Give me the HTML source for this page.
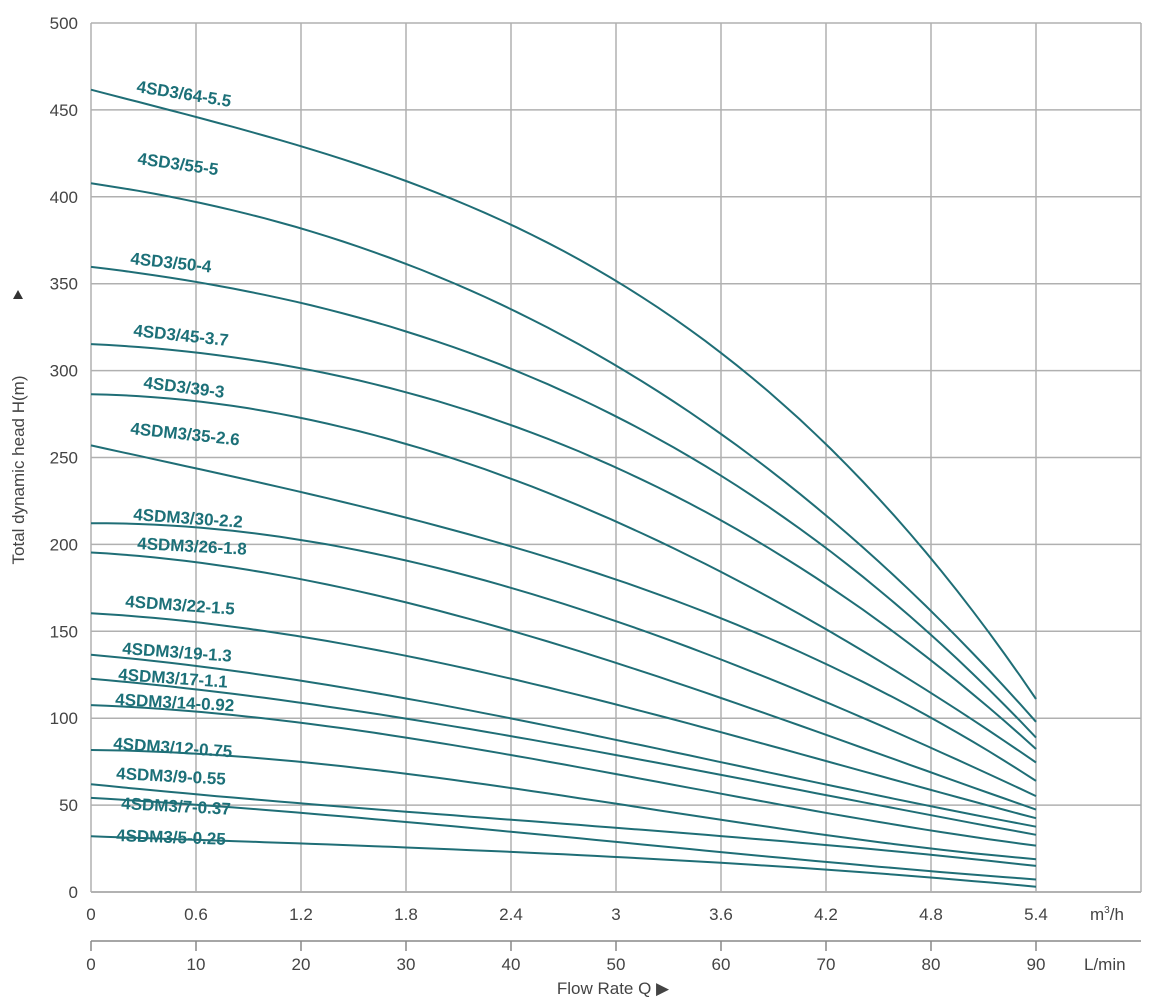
<!DOCTYPE html>
<html><head><meta charset="utf-8"><style>
body{margin:0;background:#fff;}
svg{display:block;font-family:"Liberation Sans",sans-serif;}
</style></head><body>
<svg id="chart" width="1161" height="1002" viewBox="0 0 1161 1002" xmlns="http://www.w3.org/2000/svg">
<g id="grid"></g>
<g id="axes"></g>
<g id="curves"></g>
<g id="labels"></g>
</svg>
<script>
const flowQ = [0, 1.2, 3, 4.2, 5.4];
const seriesNames = ["4SD3/64-5.5","4SD3/55-5","4SD3/50-4","4SD3/45-3.7","4SD3/39-3","4SDM3/35-2.6","4SDM3/30-2.2","4SDM3/26-1.8","4SDM3/22-1.5","4SDM3/19-1.3","4SDM3/17-1.1","4SDM3/14-0.92","4SDM3/12-0.75","4SDM3/9-0.55","4SDM3/7-0.37","4SDM3/5-0.25"];
const h64 = [460,434,343,265,109];
const h55 = [407,384,299,220,97];
const h50 = [359,341,270,201,88];
const h45 = [315,302,243,178,82];
const h39 = [286,274,211,153,74];
const h35 = [257,230,180,131,64];
const h30 = [212,203,155,110,55];
const h26 = [195,181,130,92,47];
const h22 = [160,148,106,77,42];
const h19 = [136,123,85,64,37];
const h17 = [122,111,75,59,32];
const h14 = [107,99,65,48,26];
const h12 = [81,77,47,36,18];
const h9 = [62,51,37,27,15];
const h7 = [54,46,28,18,7];
const h5 = [32,28,20,13,3];
const seriesValues = [h64,h55,h50,h45,h39,h35,h30,h26,h22,h19,h17,h14,h12,h9,h7,h5];
const yTicks = [0,50,100,150,200,250,300,350,400,450,500];
const xTicksM3 = ["0","0.6","1.2","1.8","2.4","3","3.6","4.2","4.8","5.4"];
const xTicksL = ["0","10","20","30","40","50","60","70","80","90"];

const NS="http://www.w3.org/2000/svg";
const X0=91, XW=945/5.4, Y0=892, YH=869/500;
const xs=q=>X0+q*XW, ys=v=>Y0-v*YH;
function mk(tag,attrs,parent,text){const e=document.createElementNS(NS,tag);for(const k in attrs)e.setAttribute(k,attrs[k]);if(text!==undefined)e.textContent=text;parent.appendChild(e);return e;}
const grid=document.getElementById('grid'),axes=document.getElementById('axes'),curves=document.getElementById('curves'),labels=document.getElementById('labels');
yTicks.forEach(v=>{
  const l=mk('line',{x1:X0,x2:1141,y1:ys(v),y2:ys(v),stroke:v===0?'#999':'#b0b0b0','stroke-width':1.5},grid);
  
  
  const t=mk('text',{x:78,y:ys(v)+6,'text-anchor':'end','font-size':17,fill:'#444'},axes,String(v));
  
  
});
for(let i=0;i<=10;i++){
  const x=X0+i*105;
  const l=mk('line',{x1:x,x2:x,y1:ys(500),y2:Y0,stroke:'#b0b0b0','stroke-width':1.5},grid);
  
  
}
xTicksM3.forEach((s,i)=>{
  const t=mk('text',{x:X0+i*105,y:920,'text-anchor':'middle','font-size':17,fill:'#444'},axes,s);
  
  
});
const u1=mk('text',{x:1090,y:920,'font-size':17,fill:'#444'},axes,'m');


mk('tspan',{dy:-7,'font-size':10},u1,'3');
mk('tspan',{dy:7},u1,'/h');
const ax2=mk('line',{x1:X0,x2:1141,y1:941,y2:941,stroke:'#888','stroke-width':1.5},axes);


xTicksL.forEach((s,i)=>{
  const x=X0+i*105;
  const tk=mk('line',{x1:x,x2:x,y1:941,y2:951,stroke:'#888','stroke-width':1.5},axes);
  
  
  const t=mk('text',{x:x,y:970,'text-anchor':'middle','font-size':17,fill:'#444'},axes,s);
  
  
});
const u2=mk('text',{x:1084,y:970,'font-size':17,fill:'#444'},axes,'L/min');


const xt=mk('text',{x:613,y:994,'text-anchor':'middle','font-size':17,fill:'#444'},axes,'Flow Rate Q \u25B6');


const yt=mk('text',{x:0,y:0,'text-anchor':'middle','font-size':17,fill:'#444',transform:'translate(24,470) rotate(-90)'},axes,'Total dynamic head H(m)');


const ya=mk('path',{d:'M18,290 L23,299 L13,299 Z',fill:'#333'},axes);



// least-squares cubic fit for a smooth rendered curve through the data points
function fitCubic(qs,vs){
  const n=4,A=[],b=[];
  for(let i=0;i<n;i++){A.push(new Array(n).fill(0));b.push(0);}
  qs.forEach((q,k)=>{for(let i=0;i<n;i++){b[i]+=vs[k]*Math.pow(q,i);for(let j=0;j<n;j++)A[i][j]+=Math.pow(q,i+j);}});
  for(let i=0;i<n;i++){for(let r=i+1;r<n;r++){const f=A[r][i]/A[i][i];for(let c=i;c<n;c++)A[r][c]-=f*A[i][c];b[r]-=f*b[i];}}
  const x=new Array(n).fill(0);
  for(let i=n-1;i>=0;i--){let s=b[i];for(let c=i+1;c<n;c++)s-=A[i][c]*x[c];x[i]=s/A[i][i];}
  return q=>x[0]+x[1]*q+x[2]*q*q+x[3]*q*q*q;
}
function pathFor(vals){
  const f=fitCubic(flowQ,vals);
  const qmax=flowQ[flowQ.length-1];
  let d='';
  for(let k=0;k<=60;k++){const q=qmax*k/60;d+=(k?' L':'M')+xs(q).toFixed(1)+','+ys(f(q)).toFixed(1);}
  return d;
}
seriesValues.forEach((vals,i)=>{
  const pa=mk('path',{d:pathFor(vals),fill:'none',stroke:'#1f6e76','stroke-width':2},curves);
  
  
});
const labelPos=[[136,92,9],[137,164,8],[130,264,6],[133,336,6],[143,388,7],[130,434,6],[133,520,4],[137,549,3],[125,607,4],[122,654,4],[118,680,4],[115,705,3],[113,749,4],[116,779,3],[121,809,3],[116,841,2]];
seriesNames.forEach((n,i)=>{
  const [x,y,r]=labelPos[i];
  const t=mk('text',{x:x,y:y,'font-size':17,'font-weight':'bold',fill:'#1c7078',transform:'rotate('+r+' '+x+' '+y+')'},labels,n);
  
  
});
</script>
</body></html>
